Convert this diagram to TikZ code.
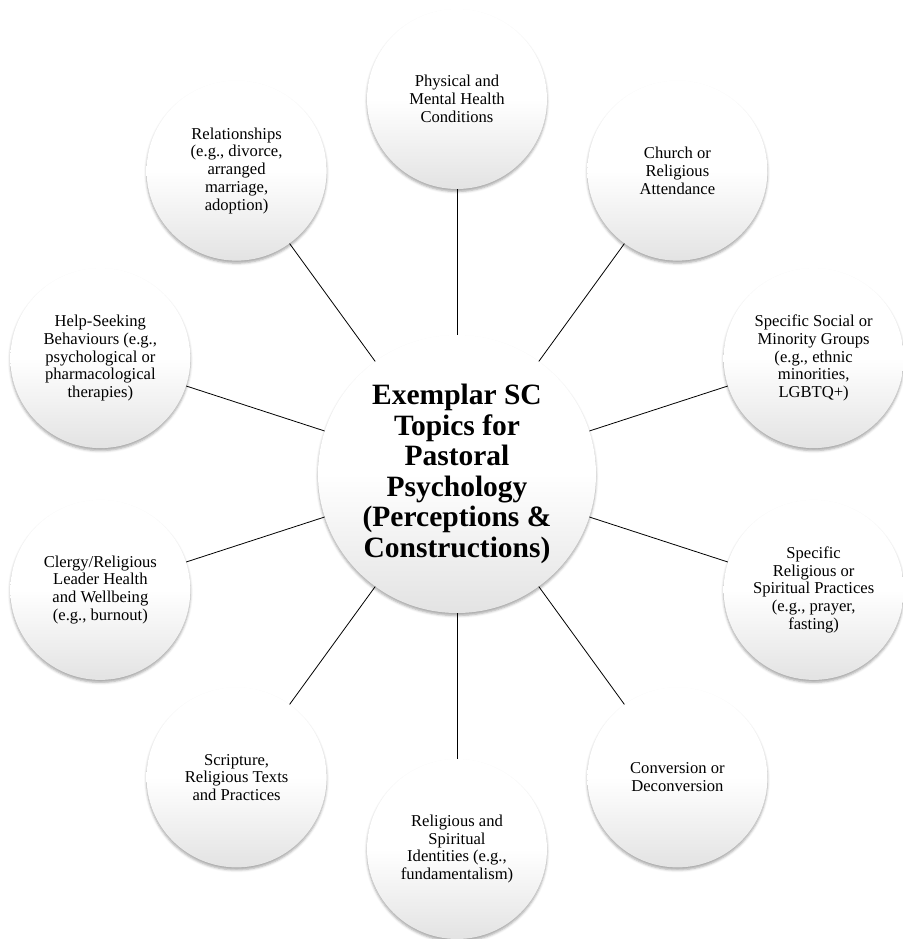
\documentclass[tikz,border=0pt]{standalone}
\usepackage{fontspec}
\setmainfont{Liberation Serif}
\usetikzlibrary{shadows.blur}
\begin{document}
\begin{tikzpicture}[x=1pt, y=1pt, thin]
\def\ra{375}
\tikzset{
  ball/.style={circle, inner sep=0pt, align=center,
    top color=white, bottom color=black!11, middle color=white,
    blur shadow={shadow xshift=0pt, shadow yshift=-2.5pt,
      shadow blur radius=2.5pt, shadow opacity=35}},
  topic/.style={ball, minimum size=180pt,
    font=\fontsize{16.6}{17.8}\selectfont},
  hubtext/.style={ball, minimum size=278pt,
    font=\fontsize{29.5}{30.6}\selectfont\bfseries},
  spoke/.style={draw=black, line width=0.8pt}
}
\useasboundingbox (-457,-465) rectangle (445,474);
% Mitte
\node[hubtext] (hub) at (0,0) {Exemplar SC\\Topics for\\Pastoral\\Psychology\\(Perceptions \&\\Constructions)};
% 10 Themen auf dem Kreis, Abstand 36 Grad, Start oben
\node[topic] (Ta) at (90:\ra)   {Physical and\\Mental Health\\Conditions};
\node[topic] (Tb) at (54:\ra)   {Church or\\Religious\\Attendance};
\node[topic] (Tc) at (18:\ra)   {Specific Social or\\Minority Groups\\(e.g., ethnic\\minorities,\\LGBTQ+)};
\node[topic] (Td) at (-18:\ra)  {Specific\\Religious or\\Spiritual Practices\\(e.g., prayer,\\fasting)};
\node[topic] (Te) at (-54:\ra)  {Conversion or\\Deconversion};
\node[topic] (Tf) at (-90:\ra)  {Religious and\\Spiritual\\Identities (e.g.,\\fundamentalism)};
\node[topic] (Tg) at (-126:\ra) {Scripture,\\Religious Texts\\and Practices};
\node[topic] (Th) at (-162:\ra) {Clergy/Religious\\Leader Health\\and Wellbeing\\(e.g., burnout)};
\node[topic] (Ti) at (162:\ra)  {Help-Seeking\\Behaviours (e.g.,\\psychological or\\pharmacological\\therapies)};
\node[topic] (Tj) at (126:\ra)  {Relationships\\(e.g., divorce,\\arranged\\marriage,\\adoption)};
\draw[spoke] (hub) -- (Ta);
\draw[spoke] (hub) -- (Tb);
\draw[spoke] (hub) -- (Tc);
\draw[spoke] (hub) -- (Td);
\draw[spoke] (hub) -- (Te);
\draw[spoke] (hub) -- (Tf);
\draw[spoke] (hub) -- (Tg);
\draw[spoke] (hub) -- (Th);
\draw[spoke] (hub) -- (Ti);
\draw[spoke] (hub) -- (Tj);
\end{tikzpicture}
\end{document}
